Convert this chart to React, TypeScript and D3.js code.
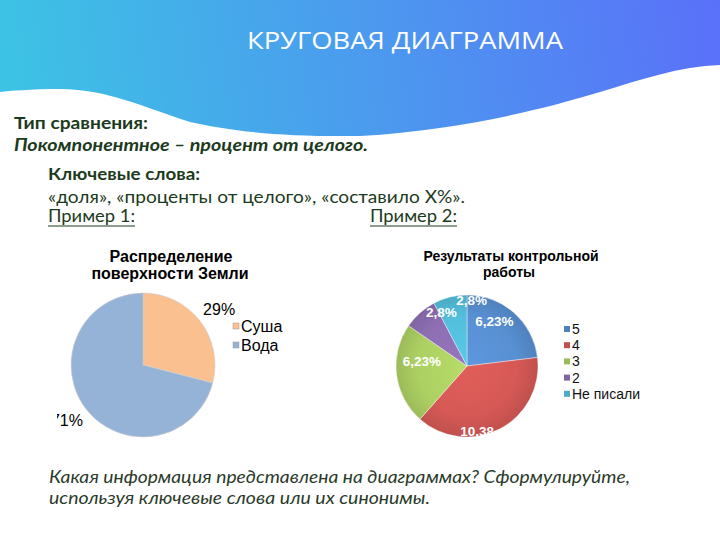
import React from 'react';
import * as d3 from 'd3';

// ---- Data ----
const surfaceCategories = ['Суша', 'Вода'];
const surfaceValues = [29, 71];
const surfaceLabels = ['29%', '71%'];
const surfaceColors = ['#FAC090', '#95B3D7'];

const gradeCategories = ['5', '4', '3', '2', 'Не писали'];
const gradeCounts = [6, 10, 6, 2, 2];
const gradeLabels = ['6,23%', '10,38', '6,23%', '2,8%', '2,8%'];
const gradeColors = ['#4F81BD', '#C0504D', '#9BBB59', '#8064A2', '#4BACC6'];
// label placement styling (Excel "best fit"): angle shift (deg) and radius fraction
const gradeLabelShift = [-10, 19, 13, 16, 18];
const gradeLabelRadius = [0.74, 0.94, 0.64, 0.84, 0.92];

const W = 720;
const H = 540;
const TEXT_COLOR = '#1c3a1c';
const BODY_FONT = 'Lato, "Open Sans", sans-serif';
const CHART_FONT = 'Arial, "Liberation Sans", sans-serif';

export default function App() {
  // Pie 1
  const c1 = { x: 143, y: 365 };
  const r1 = 72;
  const pie = d3.pie<number>().sort(null).value((d) => d);
  const arcs1 = pie(surfaceValues);
  const arc1 = d3.arc<d3.PieArcDatum<number>>().innerRadius(0).outerRadius(r1);
  const lblArc1 = d3.arc<d3.PieArcDatum<number>>().innerRadius(r1 * 1.25).outerRadius(r1 * 1.25);

  // Pie 2
  const c2 = { x: 467, y: 366 };
  const r2 = 71;
  const arcs2 = pie(gradeCounts);
  const arc2 = d3.arc<d3.PieArcDatum<number>>().innerRadius(0).outerRadius(r2);

  const headerPath =
    'M0,0 H720 V65 C680,66 640,80 600,92 C540,110 460,130 360,136 C280,137 230,131 190,122 C140,106 110,90 60,89 C30,89 10,91 0,92 Z';

  return (
    <svg
      width={W}
      height={H}
      viewBox={`0 0 ${W} ${H}`}
      style={{ position: 'absolute', left: 0, top: 0, background: '#fff' }}
    >
      <defs>
        <linearGradient id="hdr" x1="0" y1="110" x2="720" y2="0" gradientUnits="userSpaceOnUse">
          <stop offset="0" stopColor="#3cc4e4" />
          <stop offset="0.5" stopColor="#4b9bee" />
          <stop offset="1" stopColor="#5a70f9" />
        </linearGradient>
        {gradeColors.map((c, i) => (
          <radialGradient key={i} id={`g${i}`} cx={0} cy={0} r={r2} gradientUnits="userSpaceOnUse">
            <stop offset="0" stopColor={d3.color(c)!.brighter(0.45).formatHex()} />
            <stop offset="0.7" stopColor={d3.color(c)!.brighter(0.3).formatHex()} />
            <stop offset="1" stopColor={d3.color(c)!.formatHex()} />
          </radialGradient>
        ))}
        <clipPath id="clip1">
          <rect x={57} y={240} width={280} height={205} />
        </clipPath>
        <clipPath id="clip2">
          <rect x={380} y={240} width={300} height={201} />
        </clipPath>
      </defs>

      {/* Header */}
      <path d={headerPath} fill="url(#hdr)" />
      <text
        x={405}
        y={49}
        textAnchor="middle"
        fill="#fff"
        fontFamily='"Open Sans", sans-serif'
        fontSize={24}
        textLength={316}
        lengthAdjust="spacingAndGlyphs"
      >
        КРУГОВАЯ ДИАГРАММА
      </text>

      {/* Body text */}
      <g fontFamily={BODY_FONT} fill={TEXT_COLOR}>
        <text x={14} y={129} fontSize={17} fontWeight="bold" textLength={134} lengthAdjust="spacingAndGlyphs">
          Тип сравнения:
        </text>
        <text x={14} y={151} fontSize={17} fontWeight="bold" fontStyle="italic" textLength={354} lengthAdjust="spacingAndGlyphs">
          Покомпонентное – процент от целого.
        </text>
        <text x={48} y={180} fontSize={17} fontWeight="bold" textLength={152} lengthAdjust="spacingAndGlyphs">
          Ключевые слова:
        </text>
        <text x={48} y={203} fontSize={17} textLength={417} lengthAdjust="spacingAndGlyphs">
          «доля», «проценты от целого», «составило Х%».
        </text>
        <text x={48} y={222} fontSize={17} textLength={87} lengthAdjust="spacingAndGlyphs">
          Пример 1:
        </text>
        <line x1={48} x2={135} y1={226} y2={226} stroke={TEXT_COLOR} strokeWidth={1.2} />
        <text x={370} y={222} fontSize={17} textLength={87} lengthAdjust="spacingAndGlyphs">
          Пример 2:
        </text>
        <line x1={370} x2={457} y1={226} y2={226} stroke={TEXT_COLOR} strokeWidth={1.2} />
        <text x={49} y={483} fontSize={17} fontStyle="italic" fill="#2a3a2a" textLength={581} lengthAdjust="spacingAndGlyphs">
          Какая информация представлена на диаграммах? Сформулируйте,
        </text>
        <text x={49} y={504} fontSize={17} fontStyle="italic" fill="#2a3a2a" textLength={381} lengthAdjust="spacingAndGlyphs">
          используя ключевые слова или их синонимы.
        </text>
      </g>

      {/* Chart 1 */}
      <g clipPath="url(#clip1)" fontFamily={CHART_FONT}>
        <text x={171} y={262} textAnchor="middle" fontSize={16} fontWeight="bold" fill="#000">
          Распределение
        </text>
        <text x={170} y={279} textAnchor="middle" fontSize={16} fontWeight="bold" fill="#000">
          поверхности Земли
        </text>
        <g transform={`translate(${c1.x},${c1.y})`}>
          {arcs1.map((a, i) => (
            <path key={i} d={arc1(a)!} fill={surfaceColors[i]} stroke="#cfcfcf" strokeWidth={0.6} />
          ))}
          {arcs1.map((a, i) => {
            const [x, y] = lblArc1.centroid(a);
            return (
              <text
                key={i}
                x={x + (i === 0 ? 5 : -5)}
                y={y}
                textAnchor="middle"
                dominantBaseline="central"
                fontSize={16}
                fill="#000"
              >
                {surfaceLabels[i]}
              </text>
            );
          })}
        </g>
        {surfaceCategories.map((c, i) => (
          <g key={c} transform={`translate(233,${326 + i * 19})`}>
            <rect x={0} y={-3} width={6} height={6} fill={surfaceColors[i]} stroke="#9a9a9a" strokeWidth={0.5} />
            <text x={8} y={0} dominantBaseline="central" fontSize={16} fill="#000">
              {c}
            </text>
          </g>
        ))}
      </g>

      {/* Chart 2 */}
      <g clipPath="url(#clip2)" fontFamily={CHART_FONT}>
        <text x={511} y={261} textAnchor="middle" fontSize={14} fontWeight="bold" fill="#000">
          Результаты контрольной
        </text>
        <text x={509} y={277} textAnchor="middle" fontSize={14} fontWeight="bold" fill="#000">
          работы
        </text>
        <g transform={`translate(${c2.x},${c2.y})`}>
          {arcs2.map((a, i) => (
            <path key={i} d={arc2(a)!} fill={`url(#g${i})`} stroke="#ffffff" strokeWidth={0.4} />
          ))}
        </g>
        {arcs2.map((a, i) => {
          const mid = (a.startAngle + a.endAngle) / 2 + (gradeLabelShift[i] * Math.PI) / 180;
          const rr = r2 * gradeLabelRadius[i];
          const x = c2.x + Math.sin(mid) * rr;
          const y = c2.y - Math.cos(mid) * rr;
          return (
            <text
              key={i}
              x={x}
              y={y}
              textAnchor="middle"
              dominantBaseline="central"
              fontSize={13.5}
              fontWeight="bold"
              fill="#fff"
            >
              {gradeLabels[i]}
            </text>
          );
        })}
        {gradeCategories.map((c, i) => (
          <g key={c} transform={`translate(564,${329 + i * 16.2})`}>
            <rect x={0} y={-3} width={6} height={6} fill={gradeColors[i]} />
            <text x={8} y={0} dominantBaseline="central" fontSize={14} fill="#111">
              {c}
            </text>
          </g>
        ))}
      </g>
    </svg>
  );
}
